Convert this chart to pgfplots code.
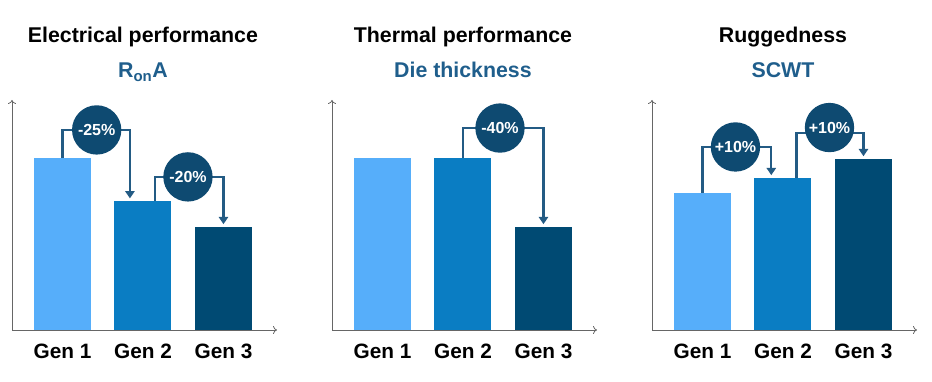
\documentclass[border=0pt]{standalone}
\usepackage{pgfplots}
\pgfplotsset{compat=1.18}
\usepackage{fontspec}
\setmainfont{Liberation Sans}
\usetikzlibrary{arrows.meta}
\definecolor{cA}{HTML}{56AEFA}
\definecolor{cB}{HTML}{0A7DC3}
\definecolor{cC}{HTML}{004A73}
\definecolor{circ}{HTML}{0E4A71}
\definecolor{brkc}{HTML}{235B84}
\definecolor{subc}{HTML}{1F5E8C}
\definecolor{axg}{HTML}{666666}
\pgfplotsset{
  panel/.style={
    scale only axis, width=198.75pt, height=172.5pt, anchor=south west,
    xmin=-0.627, xmax=2.665, ymin=0, ymax=133.7,
    axis lines=left,
    axis line style={axg, line width=0.6pt, -{To[length=3pt,width=6pt]}},
    xtick={0,1,2}, xticklabels={Gen 1,Gen 2,Gen 3}, ytick=\empty,
    major tick length=0pt,
    xticklabel style={font=\fontsize{15.6}{18}\selectfont\bfseries, anchor=base, yshift=-21pt, inner sep=0pt},
    clip=false,
  },
  bA/.style={ybar, bar shift=0pt, bar width=0.708, fill=cA, draw=none},
  bB/.style={ybar, bar shift=0pt, bar width=0.708, fill=cB, draw=none},
  bC/.style={ybar, bar shift=0pt, bar width=0.708, fill=cC, draw=none},
}
\tikzset{
  bracket/.style={draw=brkc, line width=1.6pt, -{Triangle[length=5.5pt,width=7pt]}},
  ttl/.style={font=\fontsize{16}{18}\selectfont\bfseries, anchor=base},
  sttl/.style={font=\fontsize{16}{18}\selectfont\bfseries, anchor=base, text=subc},
  pct/.style={font=\fontsize{12}{13}\selectfont\bfseries, text=white},
}
\newcommand{\badge}[3]{%
  \fill[circ] (axis cs:#1,#2) circle[radius=18.5pt];
  \node[pct] at (axis cs:#1,#2) {#3};}
\begin{document}
\begin{tikzpicture}
\path[use as bounding box] (0,0) rectangle (699pt,286.5pt);
% Panel 1
\begin{axis}[panel, at={(9pt,39pt)}]
\addplot[bA] coordinates {(0,100)};
\addplot[bB] coordinates {(1,75)};
\addplot[bC] coordinates {(2,60)};
\draw[bracket] (axis cs:0,100) |- (axis cs:0.838,116.3) -- (axis cs:0.838,76.5);
\draw[bracket] (axis cs:1.149,75) |- (axis cs:2,89) -- (axis cs:2,61.5);
\badge{0.425}{116.3}{-25\%}
\badge{1.559}{89}{-20\%}
\node[ttl] at (axis cs:1,166.9) {Electrical performance};
\node[sttl] at (axis cs:1,146.5) {R\textsubscript{on}A};
\end{axis}
% Panel 2
\begin{axis}[panel, at={(249pt,39pt)}]
\addplot[bA] coordinates {(0,100)};
\addplot[bB] coordinates {(1,100)};
\addplot[bC] coordinates {(2,60)};
\draw[bracket] (axis cs:1,100) |- (axis cs:2,117.4) -- (axis cs:2,61.5);
\badge{1.46}{117.4}{-40\%}
\node[ttl] at (axis cs:1,166.9) {Thermal performance};
\node[sttl] at (axis cs:1,146.5) {Die thickness};
\end{axis}
% Panel 3
\begin{axis}[panel, at={(489pt,39pt)}]
\addplot[bA] coordinates {(0,79.7)};
\addplot[bB] coordinates {(1,88.4)};
\addplot[bC] coordinates {(2,99.4)};
\draw[bracket] (axis cs:0,79.7) |- (axis cs:0.855,106.4) -- (axis cs:0.855,90);
\draw[bracket] (axis cs:1.168,88.4) |- (axis cs:2,114.5) -- (axis cs:2,101);
\badge{0.41}{106.4}{+10\%}
\badge{1.578}{117.7}{+10\%}
\node[ttl] at (axis cs:1,166.9) {Ruggedness};
\node[sttl] at (axis cs:1,146.5) {SCWT};
\end{axis}
\end{tikzpicture}
\end{document}
